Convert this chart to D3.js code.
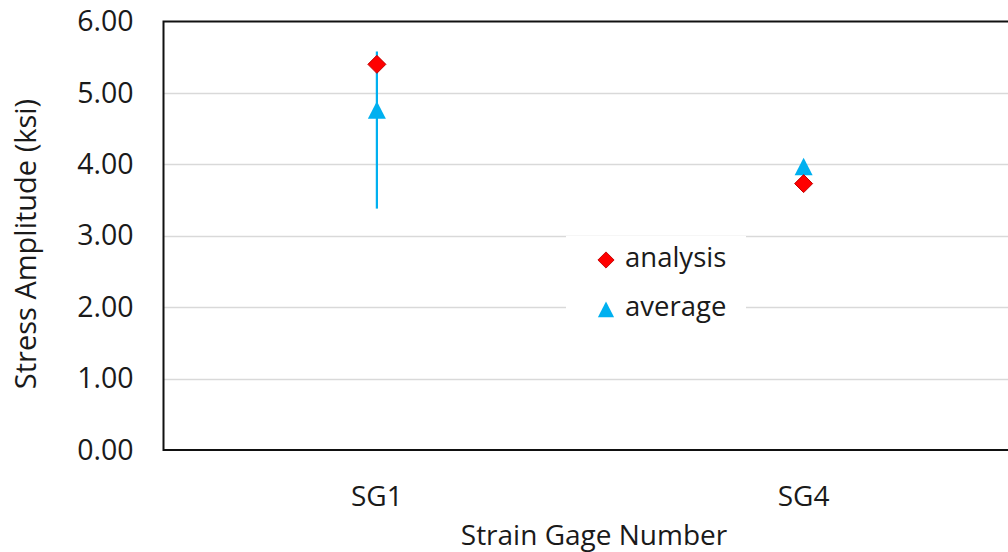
<!DOCTYPE html>
<html>
<head>
<meta charset="UTF-8">
<script src="https://d3js.org/d3.v7.min.js"></script>
<style>
  body { margin: 0; background: #fff; }
  svg { display: block; font-family: "Open Sans", "Noto Sans", sans-serif; }
</style>
</head>
<body>
<div id="chart"></div>
<script>
  const gages = ["SG1", "SG4"];
  const analysis = [5.40, 3.73];
  const average = [4.75, 3.96];
  const averageLow = [3.38, null];
  const averageHigh = [5.58, null];
  const yTicks = [0, 1, 2, 3, 4, 5, 6];

  const W = 1008, H = 552;
  const FONT = "'Open Sans', 'Noto Sans', sans-serif";
  const margin = {top: 21.5, left: 163.5, bottom: 102, right: -9};
  const x0 = margin.left, x1 = W - margin.right;
  const y0 = H - margin.bottom, y1 = margin.top;

  const svg = d3.select("#chart").append("svg")
    .attr("width", W).attr("height", H);

  const x = d3.scaleBand().domain(gages).range([x0, x1]).padding(0);
  const y = d3.scaleLinear().domain([0, 6]).range([y0, y1]);

  // gridlines
  svg.append("g")
    .selectAll("line")
    .data(yTicks.filter(d => d > 0 && d < 6))
    .enter().append("line")
    .attr("x1", x0).attr("x2", x1)
    .attr("y1", d => Math.round(y(d)) + 0.5).attr("y2", d => Math.round(y(d)) + 0.5)
    .attr("stroke", "#d9d9d9").attr("stroke-width", 1.5);

  // y axis labels
  const yAxis = svg.append("g")
    .attr("transform", `translate(${x0},0)`)
    .call(d3.axisLeft(y).tickValues(yTicks).tickFormat(d3.format(".2f")).tickSize(0).tickPadding(30));
  yAxis.select(".domain").remove();
  yAxis.selectAll("text")
    .attr("font-family", FONT)
    .attr("font-size", 28.5).attr("fill", "#1a1a1a");

  // x axis labels
  const xAxis = svg.append("g")
    .attr("transform", `translate(0,${y0})`)
    .call(d3.axisBottom(x).tickSize(0).tickPadding(36));
  xAxis.select(".domain").remove();
  xAxis.selectAll("text")
    .attr("font-family", FONT)
    .attr("font-size", 28).attr("fill", "#1a1a1a");

  // plot border
  svg.append("rect")
    .attr("x", x0).attr("y", y1)
    .attr("width", x1 - x0).attr("height", y0 - y1)
    .attr("fill", "none").attr("stroke", "#111").attr("stroke-width", 2);

  // error bars for average
  svg.append("g")
    .selectAll("line")
    .data(gages.map((g, i) => ({g, lo: averageLow[i], hi: averageHigh[i]})).filter(d => d.lo != null))
    .enter().append("line")
    .attr("x1", d => x(d.g) + x.bandwidth() / 2)
    .attr("x2", d => x(d.g) + x.bandwidth() / 2)
    .attr("y1", d => y(d.lo)).attr("y2", d => y(d.hi))
    .attr("stroke", "#00b0f0").attr("stroke-width", 2.2);

  const diamond = "M0,-9L9,0L0,9L-9,0Z";
  const tri = "M0,-9.5L9,8L-9,8Z";

  // average markers
  svg.append("g")
    .selectAll("path")
    .data(gages.map((g, i) => ({g, v: average[i]})))
    .enter().append("path")
    .attr("d", tri)
    .attr("transform", d => `translate(${x(d.g) + x.bandwidth() / 2},${y(d.v)})`)
    .attr("fill", "#00b0f0");

  // analysis markers
  svg.append("g")
    .selectAll("path")
    .data(gages.map((g, i) => ({g, v: analysis[i]})))
    .enter().append("path")
    .attr("d", diamond)
    .attr("transform", d => `translate(${x(d.g) + x.bandwidth() / 2},${y(d.v)})`)
    .attr("fill", "#ff0000").attr("stroke", "#c00000").attr("stroke-width", 1);

  // legend
  const leg = svg.append("g").attr("transform", "translate(566,236)");
  leg.append("rect").attr("width", 180).attr("height", 92).attr("fill", "#fff");
  leg.append("path").attr("d", diamond).attr("transform", "translate(40,24) scale(0.9)")
    .attr("fill", "#ff0000").attr("stroke", "#c00000");
  leg.append("text").attr("x", 59).attr("y", 31).text("analysis")
    .attr("font-size", 27.5).attr("fill", "#1a1a1a");
  leg.append("path").attr("d", tri).attr("transform", "translate(40,74) scale(0.9)")
    .attr("fill", "#00b0f0");
  leg.append("text").attr("x", 59).attr("y", 80).text("average")
    .attr("font-size", 27.5).attr("fill", "#1a1a1a");

  // axis titles
  svg.append("text")
    .attr("x", 594).attr("y", 545)
    .attr("text-anchor", "middle")
    .attr("font-size", 28).attr("fill", "#1a1a1a")
    .text("Strain Gage Number");

  svg.append("text")
    .attr("transform", "translate(36,244) rotate(-90)")
    .attr("text-anchor", "middle")
    .attr("font-size", 29).attr("fill", "#1a1a1a")
    .text("Stress Amplitude (ksi)");
</script>
</body>
</html>
